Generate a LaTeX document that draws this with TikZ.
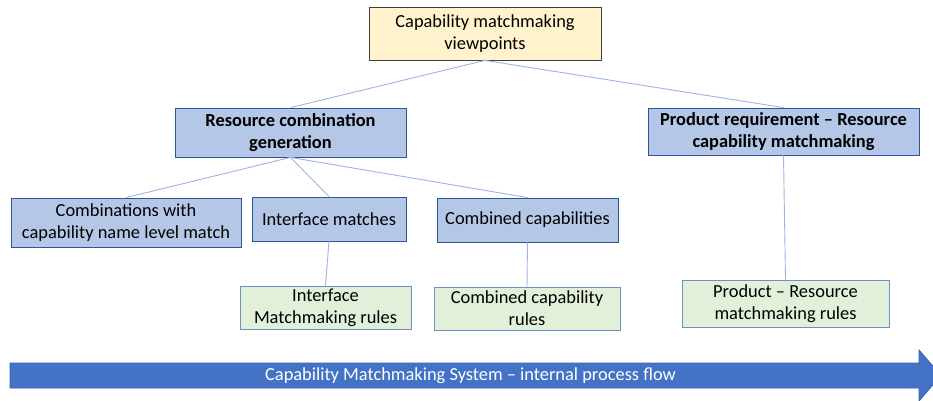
\documentclass[tikz,border=0pt]{standalone}
\usepackage{fontspec}
\setmainfont{Carlito}
\begin{document}
\begin{tikzpicture}[x=1pt,y=1pt,
  base/.style={draw, line width=0.8pt, inner sep=0pt, align=center,
    font=\fontsize{18.4}{22}\selectfont},
  topbox/.style={base, fill=ybox, draw=ydraw},
  bluebox/.style={base, fill=bbox, draw=bdraw},
  greenbox/.style={base, fill=gbox, draw=gdraw},
  link/.style={draw=linkc, line width=0.9pt}]
\definecolor{ybox}{HTML}{FFF2CC}
\definecolor{ydraw}{HTML}{404040}
\definecolor{bbox}{HTML}{B4C7E7}
\definecolor{bdraw}{HTML}{2F5597}
\definecolor{gbox}{HTML}{E2F0D9}
\definecolor{gdraw}{HTML}{6F8FC4}
\definecolor{linkc}{HTML}{9DB5E0}
\definecolor{arrowf}{HTML}{4472C4}
\definecolor{arrowd}{HTML}{3A64B0}
\useasboundingbox (0,0) rectangle (933,-401);

\node[topbox, minimum width=232, minimum height=53] (top) at (485,-33.5) {Capability matchmaking\\viewpoints};
\node[bluebox, minimum width=231, minimum height=49, font=\fontsize{18.4}{22}\selectfont\bfseries] (rcg) at (290.5,-132.5) {Resource combination\\generation};
\node[bluebox, minimum width=271, minimum height=47, font=\fontsize{18.4}{22}\selectfont\bfseries] (prod) at (783.5,-131.5) {Product requirement -- Resource\\capability matchmaking};
\node[bluebox, minimum width=230, minimum height=49] (comb) at (126,-222.5) {Combinations with\\capability name level match};
\node[bluebox, minimum width=154, minimum height=44] (ifm) at (329,-219) {Interface matches};
\node[bluebox, minimum width=181, minimum height=44] (ccap) at (527.5,-220) {Combined capabilities};
\node[greenbox, minimum width=171, minimum height=43] (ifr) at (325.5,-307.5) {Interface\\Matchmaking rules};
\node[greenbox, minimum width=186, minimum height=43] (ccr) at (527,-308.5) {Combined capability\\rules};
\node[greenbox, minimum width=207, minimum height=47] (prr) at (785.5,-303.5) {Product -- Resource\\matchmaking rules};

\draw[link] (top.south) -- (rcg.north);
\draw[link] (top.south) -- (prod.north);
\draw[link] (rcg.south) -- (comb.north);
\draw[link] (rcg.south) -- (ifm.north);
\draw[link] (rcg.south) -- (ccap.north);
\draw[link] (ifm.south) -- (ifr.north);
\draw[link] (ccap.south) -- (ccr.north);
\draw[link] (prod.south) -- (prr.north);

\fill[arrowf, draw=arrowd, line width=0.8pt] (10,-363) -- (919,-363) -- (919,-350) -- (941,-375.5) -- (919,-401) -- (919,-388) -- (10,-388) -- cycle;
\node[text=white, font=\fontsize{18.4}{22}\selectfont, inner sep=0pt] (flow) at (470.5,-376) {Capability Matchmaking System -- internal process flow};
\end{tikzpicture}
\end{document}
